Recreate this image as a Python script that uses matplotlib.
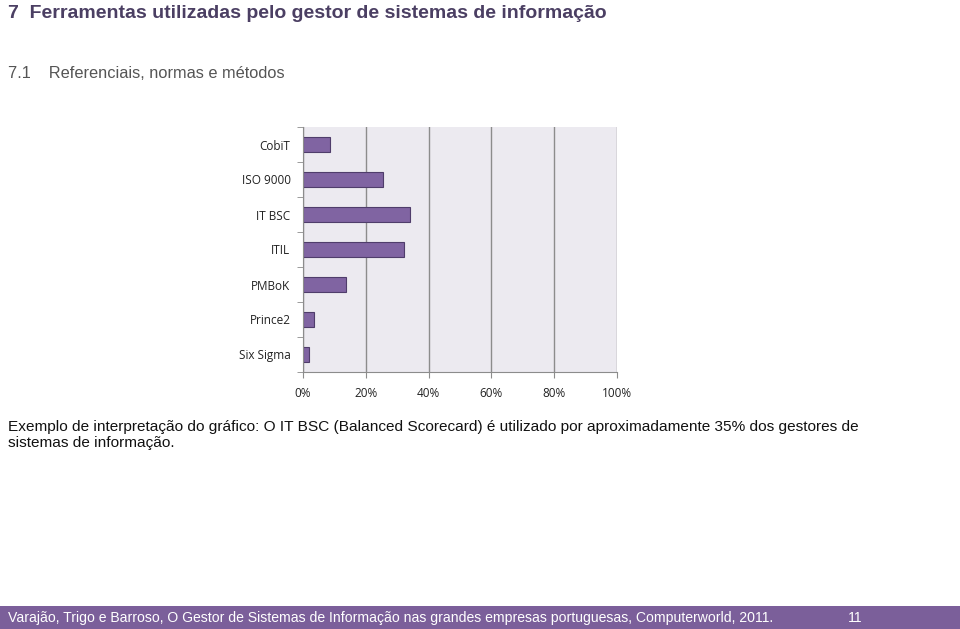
import matplotlib
matplotlib.use('Agg')
import matplotlib.pyplot as plt
from matplotlib.patches import Rectangle
from matplotlib.ticker import FuncFormatter

# data (share of IS managers using each framework)
categories = ['CobiT', 'ISO 9000', 'IT BSC', 'ITIL', 'PMBoK', 'Prince2', 'Six Sigma']
values = [8.6, 25.6, 34.1, 32.3, 13.7, 3.6, 1.9]
x_ticks = [0, 20, 40, 60, 80, 100]

title = '7  Ferramentas utilizadas pelo gestor de sistemas de informação'
subtitle = '7.1    Referenciais, normas e métodos'
note = ('Exemplo de interpretação do gráfico: O IT BSC (Balanced Scorecard) é utilizado por aproximadamente 35% dos gestores de\n'
        'sistemas de informação.')
footer = 'Varajão, Trigo e Barroso, O Gestor de Sistemas de Informação nas grandes empresas portuguesas, Computerworld, 2011.'
page_no = '11'

W, H = 960, 629
fig = plt.figure(figsize=(W / 100, H / 100), dpi=100)

def fx(px):
	return px / W

def fy(py):
	return 1 - py / H

ax = fig.add_axes([fx(303), fy(372), fx(617) - fx(303), fy(127) - fy(372)])
ax.set_facecolor('#ECEAF0')
ypos = list(range(len(categories)))
ax.barh(ypos, values, height=0.42, color='#8064A2', edgecolor='#4F3D6B', linewidth=0.8)
ax.set_xlim(0, 100)
ax.set_ylim(len(categories) - 0.5, -0.5)
ax.set_xticks(x_ticks)
ax.xaxis.set_major_formatter(FuncFormatter(lambda v, p: '%d%%' % v))
ax.set_yticks(ypos)
ax.set_yticklabels(categories)
ax.grid(axis='x', color='#8C8C8C', linewidth=1.0)
ax.set_axisbelow(True)
for s in ['top', 'right']:
	ax.spines[s].set_visible(False)
for s in ['left', 'bottom']:
	ax.spines[s].set_color('#8C8C8C')
ax.set_yticks([i + 0.5 for i in range(-1, len(categories))], minor=True)
ax.tick_params(axis='y', which='major', length=0, pad=9)
ax.tick_params(axis='y', which='minor', length=4, color='#8C8C8C', direction='out')
ax.tick_params(axis='x', length=4, color='#8C8C8C', pad=7)
for lab in ax.get_xticklabels() + ax.get_yticklabels():
	lab.set_fontfamily('Open Sans')
	lab.set_fontsize(8.5)
	lab.set_color('#222222')

fig.text(fx(8), fy(13), title, fontsize=14.0, fontweight='bold', color='#4B3F63',
	family='Liberation Sans', va='center', ha='left')
fig.text(fx(8), fy(74), subtitle, fontsize=11.8, color='#555555',
	family='Liberation Sans', va='center', ha='left')
fig.text(fx(8), fy(435), note, fontsize=11.1, color='#111111', family='Liberation Sans',
	va='center', ha='left', linespacing=1.15)

fig.patches.append(Rectangle((0, 0), 1, fy(606), transform=fig.transFigure,
	facecolor='#7B5F9A', edgecolor='none'))
fig.text(fx(8), fy(618), footer, fontsize=10.05, color='white', family='Liberation Sans',
	va='center', ha='left')
fig.text(fx(848), fy(618), page_no, fontsize=10.05, color='white', family='Liberation Sans',
	va='center', ha='left')

fig.savefig('out.png', dpi=100)
